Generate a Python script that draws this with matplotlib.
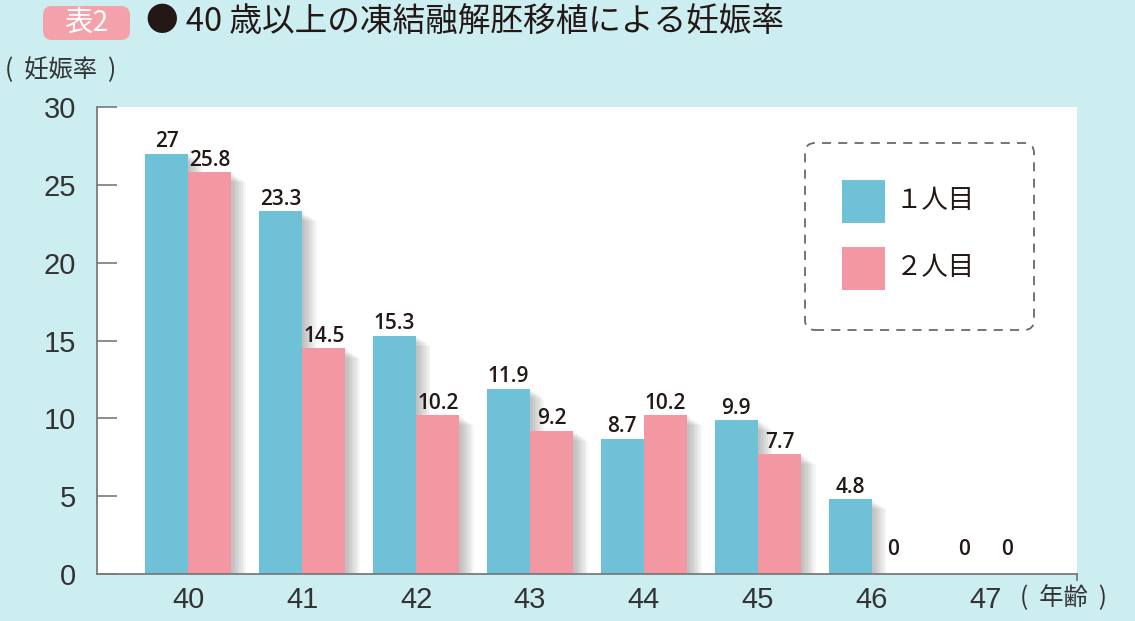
import matplotlib
matplotlib.use("Agg")
import matplotlib.pyplot as plt
from matplotlib.patches import FancyBboxPatch, Rectangle
from matplotlib.transforms import IdentityTransform
import numpy as np

# ---- data ----
ages = ['40', '41', '42', '43', '44', '45', '46', '47']
first_child = [27, 23.3, 15.3, 11.9, 8.7, 9.9, 4.8, 0]
second_child = [25.8, 14.5, 10.2, 9.2, 10.2, 7.7, 0, 0]
series_names = ['１人目', '２人目']
y_ticks = [0, 5, 10, 15, 20, 25, 30]
title = '● 40 歳以上の凍結融解胚移植による妊娠率'
badge = '表2'
y_label = '(  妊娠率  )'
x_label = '(  年齢  )'

# ---- style ----
BG = '#CDEEF1'
BLUE = '#6EC1D6'
PINK = '#F397A3'
TXT = '#231815'
CJK = ['Noto Sans CJK JP', 'DejaVu Sans']
NUM = ['Liberation Sans', 'DejaVu Sans']
LBL = ['Open Sans', 'Liberation Sans', 'DejaVu Sans']

W, H = 1135, 621
fig = plt.figure(figsize=(W / 100, H / 100), dpi=100, facecolor=BG)
ax = fig.add_axes([97 / W, 1 - 574 / H, (1077 - 97) / W, (574 - 107) / H])
ax.set_facecolor('white')

x = np.arange(len(ages))
bw = 0.38

# soft shadows to the right of bars
px = 1 / 114.0  # data units per pixel in x
for vals, off in ((first_child, -bw / 2), (second_child, bw / 2)):
    for k in range(1, 10):
        ax.bar(x + off + k * 1.6 * px, np.array(vals) - k * 0.07, width=bw,
               color='#707070', alpha=0.06, zorder=1, linewidth=0)

b1 = ax.bar(x - bw / 2, first_child, width=bw, color=BLUE, zorder=3, linewidth=0)
b2 = ax.bar(x + bw / 2, second_child, width=bw, color=PINK, zorder=3, linewidth=0)

for bars, vals in ((b1, first_child), (b2, second_child)):
    for rect, v in zip(bars, vals):
        ax.annotate(f'{v:g}', (rect.get_x() + rect.get_width() / 2, v),
                    xytext=(0, 10 if v == 0 else 1), textcoords='offset points',
                    ha='center', va='bottom', fontsize=15, fontweight='semibold',
                    color=TXT, family=LBL, zorder=5)

ax.set_xlim(-0.8, 7.8)
ax.set_ylim(0, 30)
ax.set_yticks(y_ticks)
ax.set_yticklabels([str(t) for t in y_ticks], family=NUM, fontsize=21, color='#333333')
ax.set_xticks(x)
ax.set_xticklabels(ages, family=NUM, fontsize=21, color='#333333')
ax.tick_params(axis='y', direction='in', length=14.5, width=1.2, color='#7a7a7a', pad=15)
ax.tick_params(axis='x', length=0, pad=9)
for s in ('top', 'right'):
    ax.spines[s].set_visible(False)
for s in ('left', 'bottom'):
    ax.spines[s].set_color('#7a7a7a')
    ax.spines[s].set_linewidth(1.3)
    ax.spines[s].set_zorder(6)
# small tick at right end of x axis
ax.plot([1, 1], [0, -0.012], transform=ax.transAxes, color='#7a7a7a', lw=1.3, clip_on=False)

# ---- titles / labels ----
fig.patches.append(FancyBboxPatch((43, H - 40), 87, 34,
                                  boxstyle='round,pad=0,rounding_size=9',
                                  transform=IdentityTransform(), facecolor='#F4A1AB',
                                  edgecolor='none', figure=fig))
fig.text(86 / W, 1 - 23 / H, badge, ha='center', va='center', fontsize=20.5,
         color='white', family=CJK)
fig.text(146 / W, 1 - 22 / H, title, ha='left', va='center', fontsize=23.5,
         color=TXT, family=CJK)
fig.text(5 / W, 1 - 70 / H, y_label, ha='left', va='center', fontsize=17.5,
         color='#333333', family=CJK)
fig.text(1020 / W, 1 - 598 / H, x_label, ha='left', va='center', fontsize=17.5,
         color='#333333', family=CJK)

# ---- legend box ----
fig.patches.append(FancyBboxPatch((805, H - 330), 229, 187,
                                  boxstyle='round,pad=0,rounding_size=10',
                                  transform=IdentityTransform(), facecolor='white',
                                  edgecolor='#6a6a6a', linestyle=(0, (5, 4)), lw=1.3,
                                  figure=fig, zorder=10))
for (y_c, col, name) in ((201, BLUE, series_names[0]), (268, PINK, series_names[1])):
    fig.patches.append(Rectangle((842, H - y_c - 22), 43, 43, transform=IdentityTransform(),
                                 facecolor=col, edgecolor='none', figure=fig, zorder=11))
    fig.text(896 / W, 1 - y_c / H, name, ha='left', va='center', fontsize=19,
             color=TXT, family=CJK, zorder=12)

fig.savefig('out.png', dpi=100, facecolor=BG)
